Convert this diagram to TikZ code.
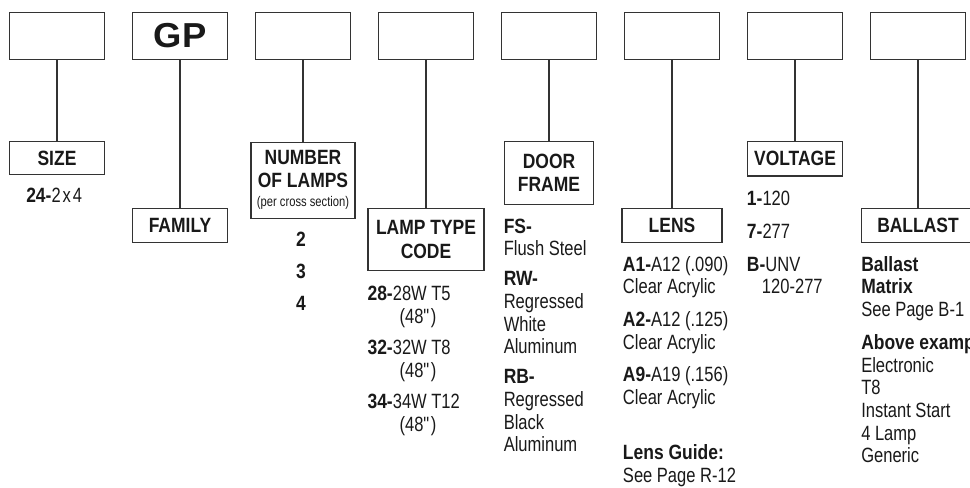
\documentclass[tikz,border=0pt]{standalone}
\usepackage{fontspec}
\setmainfont{Liberation Sans}[FakeStretch=0.8,BoldFeatures={FakeStretch=0.845}]
\newfontfamily\gpfont{Liberation Sans}[FakeStretch=1.05]
\usetikzlibrary{positioning}
\newcommand{\qt}{\textquotedbl}

\begin{document}
\begin{tikzpicture}[x=0.75pt,y=-0.75pt,
  every node/.style={text=black!90},
  codebox/.style={draw=black!80,line width=0.8pt,minimum width=71.5pt,minimum height=35pt,inner sep=0pt},
  headbox/.style={draw=black!80,line width=0.8pt,inner sep=0pt,align=center,font=\fontsize{15.5}{17}\selectfont\bfseries},
  conn/.style={draw=black!80,line width=0.8pt},
  txt/.style={anchor=north west,inner sep=0pt,align=left,font=\fontsize{15.5}{17}\selectfont}]
\useasboundingbox (0,0) rectangle (970,487);
\clip (0,0) rectangle (970,487);

% catalog code boxes
\foreach \t [count=\i] in {{},{\gpfont\bfseries\fontsize{26}{26}\selectfont GP},{},{},{},{},{},{}}
  \node[codebox] (t\i) at ({57+123*(\i-1)},36) {\t};

% field names
\node[headbox,below=60.75pt of t1,minimum width=71.5pt,minimum height=25pt] (size) {SIZE};
\node[headbox,below=111pt of t2,minimum width=71.25pt,minimum height=25.8pt] (family) {FAMILY};
\node[headbox,below=61.3pt of t3,minimum width=78pt,minimum height=57pt] (lamps)
  {NUMBER\\OF LAMPS\\[-2.5pt]{\mdseries\fontsize{10.5}{12}\selectfont (per cross section)}};
\node[headbox,below=111pt of t4,minimum width=87pt,minimum height=46.5pt] (ltype) {LAMP TYPE\\[1pt]CODE};
\node[headbox,below=61pt of t5,minimum width=66.75pt,minimum height=47pt] (door) {DOOR\\FRAME};
\node[headbox,below=111pt of t6,minimum width=75pt,minimum height=25.8pt] (lens) {LENS};
\node[headbox,below=61pt of t7,minimum width=71.25pt,minimum height=25.7pt] (volt) {VOLTAGE};
\node[headbox,below=111pt of t8,minimum width=85pt,minimum height=25.8pt] (ballast) {BALLAST};

\foreach \a/\b in {t1/size,t2/family,t3/lamps,t4/ltype,t5/door,t6/lens,t7/volt,t8/ballast}
  \draw[conn] (\a) -- (\b);

% options
\node[txt] (sizeopt) at (26,188) {\textbf{24-}2\kern1.5pt x\kern1.5pt 4};
\node[txt,anchor=north,align=center] (lampsopt) at (301,232)
  {\textbf{2}\\[7pt]\textbf{3}\\[7pt]\textbf{4}};
\node[txt] (ltypeopt) at (367.3,286)
  {\textbf{28-}28W T5\\\hspace*{24pt}(48\qt)\\[6.6pt]
   \textbf{32-}32W T8\\\hspace*{24pt}(48\qt)\\[6.6pt]
   \textbf{34-}34W T12\\\hspace*{24pt}(48\qt)};
\node[txt] (dooropt) at (503.5,218.5)
  {\textbf{FS-}\\Flush Steel\\[5.5pt]
   \textbf{RW-}\\Regressed\\White\\Aluminum\\[5.5pt]
   \textbf{RB-}\\Regressed\\Black\\Aluminum};
\node[txt] (lensopt) at (622.7,256)
  {\textbf{A1-}A12 (.090)\\Clear Acrylic\\[7.5pt]
   \textbf{A2-}A12 (.125)\\Clear Acrylic\\[7.5pt]
   \textbf{A9-}A19 (.156)\\Clear Acrylic};
\node[txt] (lensguide) at (622.7,444.4) {\textbf{Lens Guide:}\\See Page R-12};
\node[txt] (voltopt) at (746.7,190.5)
  {\textbf{1-}120\\[7.7pt]\textbf{7-}277\\[7.7pt]\textbf{B-}UNV\\\hspace*{11.25pt}120-277};
\node[txt] (ballastopt) at (861,256)
  {\textbf{Ballast}\\\textbf{Matrix}\\See Page B-1\\[7.7pt]
   \textbf{Above example}\\Electronic\\T8\\Instant Start\\4 Lamp\\Generic};
\end{tikzpicture}
\end{document}
